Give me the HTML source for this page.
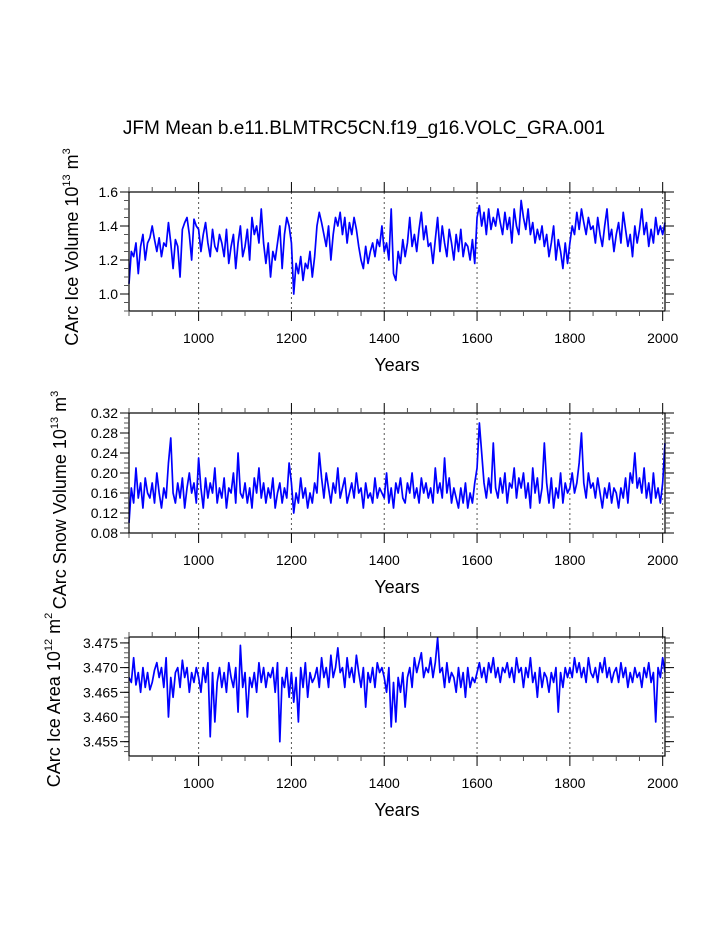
<!DOCTYPE html>
<html><head><meta charset="utf-8">
<style>
html,body{margin:0;padding:0;background:#fff;}
svg{display:block;font-family:"Liberation Sans",Arial,sans-serif;}
</style></head>
<body>
<svg id="chart" width="723" height="935" viewBox="0 0 723 935" xmlns="http://www.w3.org/2000/svg">
<text x="364" y="134" font-size="19" text-anchor="middle">JFM Mean b.e11.BLMTRC5CN.f19_g16.VOLC_GRA.001</text>
</svg>
<script>
// ---- data (values every 5 years from 850) ----
const startYear = 850;
const stepYears = 5;
const xTicks = [1000, 1200, 1400, 1600, 1800, 2000];
const iceVolume = [
1.06,1.25,1.22,1.30,1.12,1.28,1.35,1.20,1.30,1.33,
1.40,1.32,1.25,1.33,1.22,1.30,1.28,1.42,1.30,1.15,
1.32,1.28,1.10,1.38,1.42,1.45,1.35,1.20,1.44,1.40,
1.38,1.25,1.35,1.42,1.30,1.22,1.38,1.28,1.25,1.35,
1.30,1.22,1.38,1.18,1.28,1.35,1.15,1.30,1.40,1.22,
1.28,1.38,1.20,1.45,1.35,1.40,1.30,1.50,1.30,1.18,
1.30,1.10,1.25,1.20,1.30,1.40,1.15,1.35,1.45,1.40,
1.30,1.00,1.18,1.12,1.22,1.08,1.18,1.15,1.25,1.10,
1.22,1.40,1.48,1.42,1.35,1.28,1.40,1.20,1.35,1.45,
1.40,1.48,1.35,1.45,1.30,1.42,1.35,1.45,1.38,1.28,
1.20,1.15,1.28,1.18,1.25,1.30,1.22,1.32,1.28,1.40,
1.25,1.30,1.20,1.50,1.12,1.08,1.25,1.18,1.32,1.22,
1.30,1.45,1.28,1.35,1.25,1.38,1.48,1.32,1.40,1.28,
1.30,1.18,1.32,1.45,1.25,1.40,1.30,1.22,1.38,1.30,
1.20,1.35,1.25,1.38,1.22,1.30,1.28,1.20,1.32,1.18,
1.45,1.52,1.40,1.48,1.35,1.50,1.38,1.45,1.40,1.50,
1.42,1.35,1.48,1.38,1.45,1.30,1.50,1.40,1.35,1.55,
1.45,1.38,1.50,1.35,1.42,1.30,1.38,1.32,1.40,1.28,
1.35,1.22,1.30,1.40,1.20,1.32,1.25,1.15,1.30,1.18,
1.30,1.40,1.35,1.48,1.38,1.50,1.42,1.35,1.45,1.38,
1.40,1.30,1.45,1.35,1.28,1.40,1.50,1.32,1.38,1.25,
1.35,1.42,1.30,1.48,1.38,1.28,1.35,1.22,1.40,1.30,
1.38,1.50,1.35,1.42,1.28,1.38,1.30,1.45,1.35,1.40,
1.35,1.42];
const snowVolume = [
0.10,0.17,0.14,0.21,0.15,0.18,0.13,0.19,0.16,0.15,
0.18,0.14,0.20,0.16,0.13,0.17,0.15,0.22,0.27,0.16,
0.14,0.18,0.15,0.19,0.13,0.17,0.20,0.16,0.18,0.14,
0.23,0.17,0.13,0.19,0.15,0.18,0.16,0.21,0.14,0.17,
0.15,0.19,0.13,0.17,0.16,0.20,0.14,0.24,0.16,0.15,
0.18,0.14,0.17,0.13,0.19,0.16,0.21,0.15,0.18,0.14,
0.17,0.15,0.19,0.13,0.16,0.18,0.14,0.17,0.15,0.22,
0.18,0.12,0.16,0.14,0.19,0.15,0.17,0.13,0.16,0.14,
0.18,0.16,0.24,0.19,0.15,0.20,0.17,0.14,0.18,0.16,
0.21,0.15,0.17,0.19,0.14,0.16,0.18,0.15,0.20,0.16,
0.17,0.13,0.18,0.15,0.16,0.14,0.19,0.15,0.17,0.16,
0.15,0.20,0.14,0.17,0.13,0.18,0.16,0.19,0.15,0.14,
0.18,0.16,0.20,0.15,0.17,0.14,0.19,0.16,0.18,0.15,
0.17,0.14,0.21,0.16,0.18,0.15,0.23,0.16,0.19,0.14,
0.17,0.15,0.13,0.17,0.14,0.18,0.13,0.16,0.14,0.18,
0.21,0.30,0.24,0.18,0.15,0.19,0.16,0.26,0.17,0.15,
0.19,0.16,0.20,0.14,0.18,0.17,0.21,0.15,0.19,0.17,
0.20,0.15,0.18,0.13,0.21,0.16,0.19,0.14,0.17,0.26,
0.18,0.14,0.19,0.13,0.17,0.15,0.20,0.14,0.18,0.16,
0.17,0.20,0.16,0.18,0.22,0.28,0.18,0.15,0.20,0.17,
0.18,0.15,0.19,0.16,0.13,0.17,0.15,0.18,0.14,0.17,
0.16,0.13,0.17,0.15,0.19,0.14,0.20,0.18,0.24,0.17,
0.19,0.16,0.21,0.15,0.18,0.14,0.20,0.15,0.17,0.14,
0.18,0.26];
const iceArea = [
3.4680,3.4670,3.4720,3.4665,3.4690,3.4650,3.4700,3.4660,3.4690,3.4655,
3.4670,3.4695,3.4710,3.4680,3.4700,3.4660,3.4720,3.4600,3.4680,3.4640,
3.4690,3.4700,3.4660,3.4715,3.4680,3.4700,3.4650,3.4690,3.4670,3.4700,
3.4680,3.4650,3.4700,3.4670,3.4710,3.4560,3.4690,3.4590,3.4670,3.4700,
3.4660,3.4690,3.4650,3.4710,3.4680,3.4660,3.4700,3.4610,3.4745,3.4660,
3.4690,3.4600,3.4680,3.4660,3.4690,3.4650,3.4710,3.4670,3.4700,3.4660,
3.4690,3.4680,3.4700,3.4650,3.4710,3.4550,3.4680,3.4660,3.4700,3.4640,
3.4690,3.4630,3.4680,3.4590,3.4700,3.4660,3.4710,3.4640,3.4690,3.4670,
3.4680,3.4700,3.4660,3.4720,3.4680,3.4700,3.4660,3.4725,3.4680,3.4700,
3.4740,3.4690,3.4700,3.4660,3.4720,3.4680,3.4700,3.4670,3.4725,3.4690,
3.4660,3.4700,3.4620,3.4690,3.4670,3.4700,3.4660,3.4710,3.4690,3.4700,
3.4680,3.4650,3.4700,3.4580,3.4670,3.4590,3.4680,3.4650,3.4690,3.4620,
3.4680,3.4700,3.4660,3.4720,3.4690,3.4710,3.4730,3.4680,3.4700,3.4690,
3.4720,3.4680,3.4710,3.4760,3.4690,3.4700,3.4660,3.4710,3.4670,3.4690,
3.4680,3.4650,3.4700,3.4660,3.4690,3.4640,3.4700,3.4660,3.4680,3.4670,
3.4690,3.4710,3.4680,3.4700,3.4670,3.4710,3.4690,3.4720,3.4680,3.4700,
3.4670,3.4700,3.4690,3.4710,3.4680,3.4700,3.4670,3.4720,3.4690,3.4700,
3.4660,3.4700,3.4680,3.4720,3.4670,3.4690,3.4640,3.4700,3.4660,3.4690,
3.4680,3.4650,3.4690,3.4670,3.4700,3.4610,3.4690,3.4660,3.4700,3.4680,
3.4700,3.4680,3.4720,3.4690,3.4710,3.4680,3.4700,3.4670,3.4720,3.4690,
3.4680,3.4700,3.4670,3.4710,3.4690,3.4720,3.4680,3.4700,3.4670,3.4690,
3.4700,3.4670,3.4710,3.4680,3.4700,3.4660,3.4690,3.4670,3.4700,3.4680,
3.4690,3.4660,3.4700,3.4680,3.4710,3.4670,3.4690,3.4590,3.4700,3.4680,
3.4720,3.4690];
const volTicks = ["1.0","1.2","1.4","1.6"];
const snowTicks = ["0.08","0.12","0.16","0.20","0.24","0.28","0.32"];
const areaTicks = ["3.455","3.460","3.465","3.470","3.475"];

const NS = "http://www.w3.org/2000/svg";
const svg = document.getElementById('chart');
function mk(tag, attrs, parent) {
  const e = document.createElementNS(NS, tag);
  for (const k in attrs) e.setAttribute(k, attrs[k]);
  (parent || svg).appendChild(e);
  return e;
}
const X0 = 129, X1 = 665, YMIN = 850, YMAX = 2005;
function xs(yr) { return X0 + (yr - YMIN) / (YMAX - YMIN) * (X1 - X0); }

function panel(o) {
  const g = mk('g', {});
  
  
  const ys = v => o.bot - (v - o.vmin) / (o.vmax - o.vmin) * (o.bot - o.top);
  xTicks.forEach(t => {
    const l = mk('line', {x1: xs(t), x2: xs(t), y1: o.top, y2: o.bot, stroke: '#555', 'stroke-width': 1, 'stroke-dasharray': '2,3'}, g);
    
    
  });
  const pts = o.data.map((v, i) => xs(startYear + i * stepYears).toFixed(2) + ',' + ys(v).toFixed(2)).join(' ');
  const pl = mk('polyline', {points: pts, fill: 'none', stroke: '#0000ff', 'stroke-width': 1.7, 'stroke-linejoin': 'round'}, g);
  
  
  const fr = mk('rect', {x: X0, y: o.top, width: X1 - X0, height: o.bot - o.top, fill: 'none', stroke: '#000', 'stroke-width': 1.2}, g);
  
  
  for (let yr = 850; yr <= 2005; yr += 50) {
    const maj = yr % 200 === 0;
    const len = maj ? 10 : 5;
    const c = maj ? '#000' : '#555';
    mk('line', {x1: xs(yr), x2: xs(yr), y1: o.top, y2: o.top - len, stroke: c, 'stroke-width': 1}, g);
    mk('line', {x1: xs(yr), x2: xs(yr), y1: o.bot, y2: o.bot + len, stroke: c, 'stroke-width': 1}, g);
  }
  xTicks.forEach(t => {
    const tx = mk('text', {x: xs(t), y: o.bot + 32, 'font-size': 14, 'text-anchor': 'middle'}, g);
    tx.textContent = t;
    
    
  });
  const n = Math.round((o.vmax - o.vmin) / o.minor);
  for (let k = 0; k <= n + 1; k++) {
    const v = Math.ceil(o.vmin / o.minor - 1e-6) * o.minor + k * o.minor;
    if (v > o.vmax + 1e-9) break;
    mk('line', {x1: X0, x2: X0 - 5, y1: ys(v), y2: ys(v), stroke: '#555', 'stroke-width': 1}, g);
    mk('line', {x1: X1, x2: X1 + 5, y1: ys(v), y2: ys(v), stroke: '#555', 'stroke-width': 1}, g);
  }
  o.ticks.forEach(t => {
    const v = parseFloat(t);
    mk('line', {x1: X0, x2: X0 - 9, y1: ys(v), y2: ys(v), stroke: '#000', 'stroke-width': 1}, g);
    mk('line', {x1: X1, x2: X1 + 9, y1: ys(v), y2: ys(v), stroke: '#000', 'stroke-width': 1}, g);
    const tx = mk('text', {x: X0 - 11, y: ys(v) + 5, 'font-size': 14, 'text-anchor': 'end'}, g);
    tx.textContent = t;
    
    
  });
  const xt = mk('text', {x: 397, y: o.bot + 60, 'font-size': 18, 'text-anchor': 'middle'}, g);
  xt.textContent = 'Years';
  
  
  const yt = mk('text', {x: 0, y: 0, 'font-size': 18, 'text-anchor': 'middle', transform: 'translate(' + o.ytx + ',' + o.yty + ') rotate(-90)'}, g);
  yt.innerHTML = o.ylabel;
  
  
}

panel({name: 'ice-volume-panel', data: iceVolume, top: 192, bot: 311, vmin: 0.9, vmax: 1.6, minor: 0.05, ticks: volTicks,
  ytx: 78, yty: 247, ylabel: 'CArc Ice Volume 10<tspan font-size="11" dy="-8">13</tspan><tspan dy="8"> m</tspan><tspan font-size="11" dy="-8">3</tspan>'});
panel({name: 'snow-volume-panel', data: snowVolume, top: 413, bot: 533, vmin: 0.08, vmax: 0.32, minor: 0.01, ticks: snowTicks,
  ytx: 66, yty: 500, ylabel: 'CArc Snow Volume 10<tspan font-size="11" dy="-8">13</tspan><tspan dy="8"> m</tspan><tspan font-size="11" dy="-8">3</tspan>'});
panel({name: 'ice-area-panel', data: iceArea, top: 637, bot: 756, vmin: 3.4521, vmax: 3.4762, minor: 0.001, ticks: areaTicks,
  ytx: 60, yty: 700, ylabel: 'CArc Ice Area 10<tspan font-size="11" dy="-8">12</tspan><tspan dy="8"> m</tspan><tspan font-size="11" dy="-8">2</tspan>'});
</script>
</body></html>
